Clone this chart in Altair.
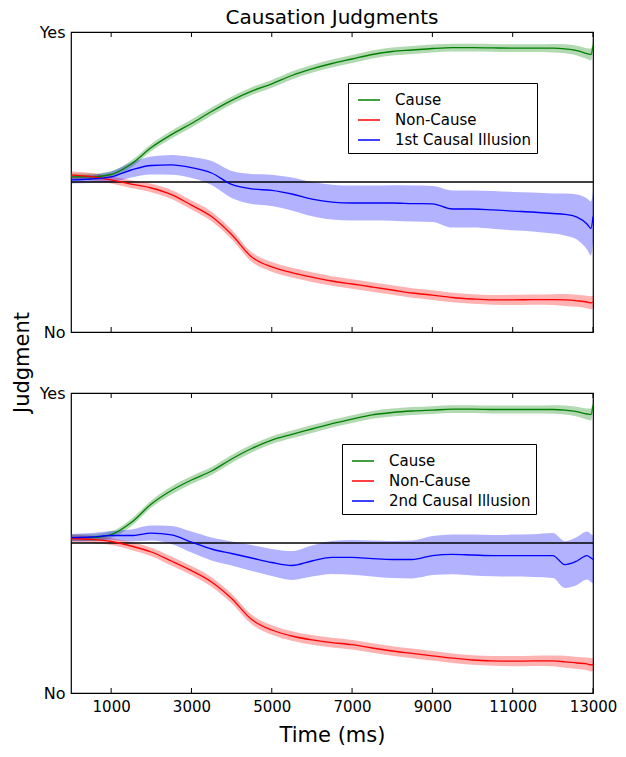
import altair as alt
import pandas as pd

TIME = [0, 500, 1000, 1500, 2000, 2500, 3000, 3500, 4000, 4500, 5000, 5500, 6000,
        6500, 7000, 7500, 8000, 8500, 9000, 9500, 10000, 10500, 11000, 11500, 12000,
        12300, 12600, 12850, 12950, 13000]
XTICKS = [1000, 3000, 5000, 7000, 9000, 11000, 13000]

# ---- top panel ----
TOP_CAUSE = [0.517, 0.517, 0.525, 0.56, 0.615, 0.658, 0.695, 0.735, 0.772, 0.803, 0.827,
             0.855, 0.877, 0.895, 0.91, 0.925, 0.935, 0.94, 0.945, 0.948, 0.948, 0.947,
             0.946, 0.946, 0.946, 0.944, 0.938, 0.928, 0.925, 0.955]
TOP_CAUSE_CI = [0.011, 0.011, 0.011, 0.012, 0.012, 0.013, 0.013, 0.013, 0.013, 0.013, 0.013,
                0.013, 0.013, 0.013, 0.013, 0.013, 0.013, 0.013, 0.013, 0.013, 0.013, 0.013,
                0.013, 0.013, 0.014, 0.015, 0.016, 0.018, 0.02, 0.02]
TOP_NON = [0.523, 0.518, 0.507, 0.493, 0.48, 0.458, 0.423, 0.385, 0.325, 0.25, 0.217,
           0.198, 0.183, 0.17, 0.16, 0.15, 0.14, 0.13, 0.123, 0.115, 0.11, 0.107,
           0.107, 0.108, 0.108, 0.107, 0.104, 0.1, 0.097, 0.1]
TOP_NON_CI = [0.012, 0.012, 0.012, 0.013, 0.014, 0.015, 0.015, 0.016, 0.016, 0.016, 0.016,
              0.016, 0.016, 0.016, 0.016, 0.016, 0.016, 0.016, 0.016, 0.016, 0.016, 0.016,
              0.017, 0.017, 0.018, 0.02, 0.02, 0.021, 0.022, 0.022]
TOP_ILL = [0.507, 0.51, 0.517, 0.54, 0.555, 0.557, 0.548, 0.53, 0.492, 0.477, 0.472,
           0.46, 0.443, 0.433, 0.43, 0.43, 0.43, 0.428, 0.427, 0.41, 0.41, 0.407,
           0.403, 0.4, 0.395, 0.392, 0.383, 0.36, 0.345, 0.385]
TOP_ILL_CI = [0.012, 0.013, 0.018, 0.025, 0.03, 0.033, 0.035, 0.04, 0.045, 0.05, 0.052,
              0.055, 0.057, 0.058, 0.058, 0.058, 0.059, 0.06, 0.06, 0.062, 0.062, 0.063,
              0.064, 0.065, 0.067, 0.07, 0.075, 0.085, 0.09, 0.085]

# ---- bottom panel ----
BOT_CAUSE = [0.518, 0.518, 0.528, 0.568, 0.63, 0.675, 0.71, 0.74, 0.78, 0.815, 0.843,
             0.862, 0.88, 0.898, 0.913, 0.927, 0.935, 0.94, 0.943, 0.946, 0.946, 0.945,
             0.945, 0.945, 0.945, 0.943, 0.938, 0.93, 0.928, 0.96]
BOT_CAUSE_CI = TOP_CAUSE_CI
BOT_NON = [0.515, 0.512, 0.505, 0.49, 0.47, 0.44, 0.408, 0.37, 0.315, 0.245, 0.21,
           0.19, 0.177, 0.168, 0.161, 0.15, 0.14, 0.132, 0.124, 0.116, 0.11, 0.107,
           0.106, 0.107, 0.107, 0.104, 0.1, 0.097, 0.094, 0.095]
BOT_NON_CI = TOP_NON_CI
BOT_ILL = [0.518, 0.52, 0.525, 0.525, 0.533, 0.527, 0.503, 0.48, 0.465, 0.45, 0.435,
           0.425, 0.44, 0.452, 0.452, 0.448, 0.445, 0.445, 0.458, 0.462, 0.46, 0.458,
           0.458, 0.458, 0.458, 0.428, 0.44, 0.458, 0.45, 0.445]
BOT_ILL_CI = [0.012, 0.013, 0.015, 0.02, 0.025, 0.03, 0.035, 0.038, 0.04, 0.043, 0.045,
              0.048, 0.052, 0.055, 0.058, 0.06, 0.062, 0.063, 0.065, 0.066, 0.068, 0.069,
              0.07, 0.071, 0.075, 0.078, 0.08, 0.08, 0.08, 0.08]

LINE_COLORS = ["#008000", "#ff0000", "#0000ff"]
FONT = "DejaVu Sans"
W, H = 522, 300


def panel_df(series):
    rows = []
    for name, m, c in series:
        for t, v, e in zip(TIME, m, c):
            rows.append({"time": t, "series": name, "mean": v, "lo": v - e, "hi": v + e})
    return pd.DataFrame(rows)


def panel(df, names, legend_x, show_x, ytitle):
    xscale = alt.Scale(domain=[0, 13000], nice=False, zero=False)
    yscale = alt.Scale(domain=[0, 1], nice=False)
    if show_x:
        xaxis = alt.Axis(values=XTICKS, format="d", labelFlush=False, labelFontSize=15,
                         labelPadding=6, title="Time (ms)", titleFontSize=21,
                         titleFontWeight="normal", titlePadding=10)
    else:
        xaxis = alt.Axis(values=XTICKS, labels=False, title=None)
    if ytitle:
        yaxis = alt.Axis(values=[0, 1], labelExpr="datum.value == 1 ? 'Yes' : 'No'",
                         labelFontSize=16, labelPadding=6, title="Judgment",
                         titleFontSize=21, titleFontWeight="normal", titleY=H + 30,
                         titleX=-39, titleBaseline="bottom", titleAlign="center")
    else:
        yaxis = alt.Axis(values=[0, 1], labelExpr="datum.value == 1 ? 'Yes' : 'No'",
                         labelFontSize=16, labelPadding=6, title=None)

    base = alt.Chart(df)
    layers = []
    for name, col in zip(names, LINE_COLORS):
        layers.append(base.mark_area(opacity=0.3, color=col, interpolate="monotone")
                      .transform_filter(alt.datum.series == name).encode(
                          x=alt.X("time:Q", scale=xscale, axis=xaxis),
                          y=alt.Y("lo:Q", scale=yscale, axis=yaxis),
                          y2="hi:Q"))
    rule = alt.Chart(pd.DataFrame({"v": [0.5]})).mark_rule(color="black", strokeWidth=1.5).encode(
        y=alt.Y("v:Q", scale=yscale, axis=yaxis)
    )
    line = base.mark_line(strokeWidth=1.3, interpolate="monotone").encode(
        x=alt.X("time:Q", scale=xscale, axis=xaxis),
        y=alt.Y("mean:Q", scale=yscale, axis=yaxis),
        color=alt.Color("series:N", scale=alt.Scale(domain=names, range=LINE_COLORS),
                        legend=alt.Legend(
                            title=None, orient="none", legendX=legend_x, legendY=51,
                            symbolType="stroke", symbolSize=484, symbolStrokeWidth=1.5,
                            labelFontSize=15, labelOffset=14,
                            symbolOffset=4, padding=5, rowPadding=0,
                            strokeColor="black", fillColor="white",
                            labelColor="black")),
    )
    tdf = pd.DataFrame({"t": XTICKS})
    tick_top = alt.Chart(tdf).mark_rule(color="black", strokeWidth=1).encode(
        x=alt.X("t:Q", scale=xscale, axis=xaxis), y=alt.value(0), y2=alt.value(5))
    tick_bot = alt.Chart(tdf).mark_rule(color="black", strokeWidth=1).encode(
        x=alt.X("t:Q", scale=xscale, axis=xaxis), y=alt.value(H - 5), y2=alt.value(H))
    return alt.layer(*layers, rule, line, tick_top, tick_bot).properties(width=W, height=H)


top_df = panel_df([("Cause", TOP_CAUSE, TOP_CAUSE_CI),
                   ("Non-Cause", TOP_NON, TOP_NON_CI),
                   ("1st Causal Illusion", TOP_ILL, TOP_ILL_CI)])
bot_df = panel_df([("Cause", BOT_CAUSE, BOT_CAUSE_CI),
                   ("Non-Cause", BOT_NON, BOT_NON_CI),
                   ("2nd Causal Illusion", BOT_ILL, BOT_ILL_CI)])

top = panel(top_df, ["Cause", "Non-Cause", "1st Causal Illusion"], 277, False, True)
bot = panel(bot_df, ["Cause", "Non-Cause", "2nd Causal Illusion"], 271, True, False)

chart = alt.vconcat(top, bot, spacing=61, bounds="flush").resolve_scale(
    color="independent"
).resolve_legend(color="independent").properties(
    title=alt.TitleParams("Causation Judgments", fontSize=20, font=FONT, fontWeight="normal",
                          anchor="middle", frame="group", offset=-5, color="black"),
    padding={"left": 2, "top": 0, "right": 0, "bottom": 0}
).configure_view(stroke="black", strokeWidth=1.2).configure_axis(
    grid=False, domain=False, ticks=False, labelFont=FONT, titleFont=FONT,
    labelColor="black", titleColor="black"
).configure_legend(labelFont=FONT)

chart.save("out.html", embed_options={"renderer": "svg", "actions": False})
